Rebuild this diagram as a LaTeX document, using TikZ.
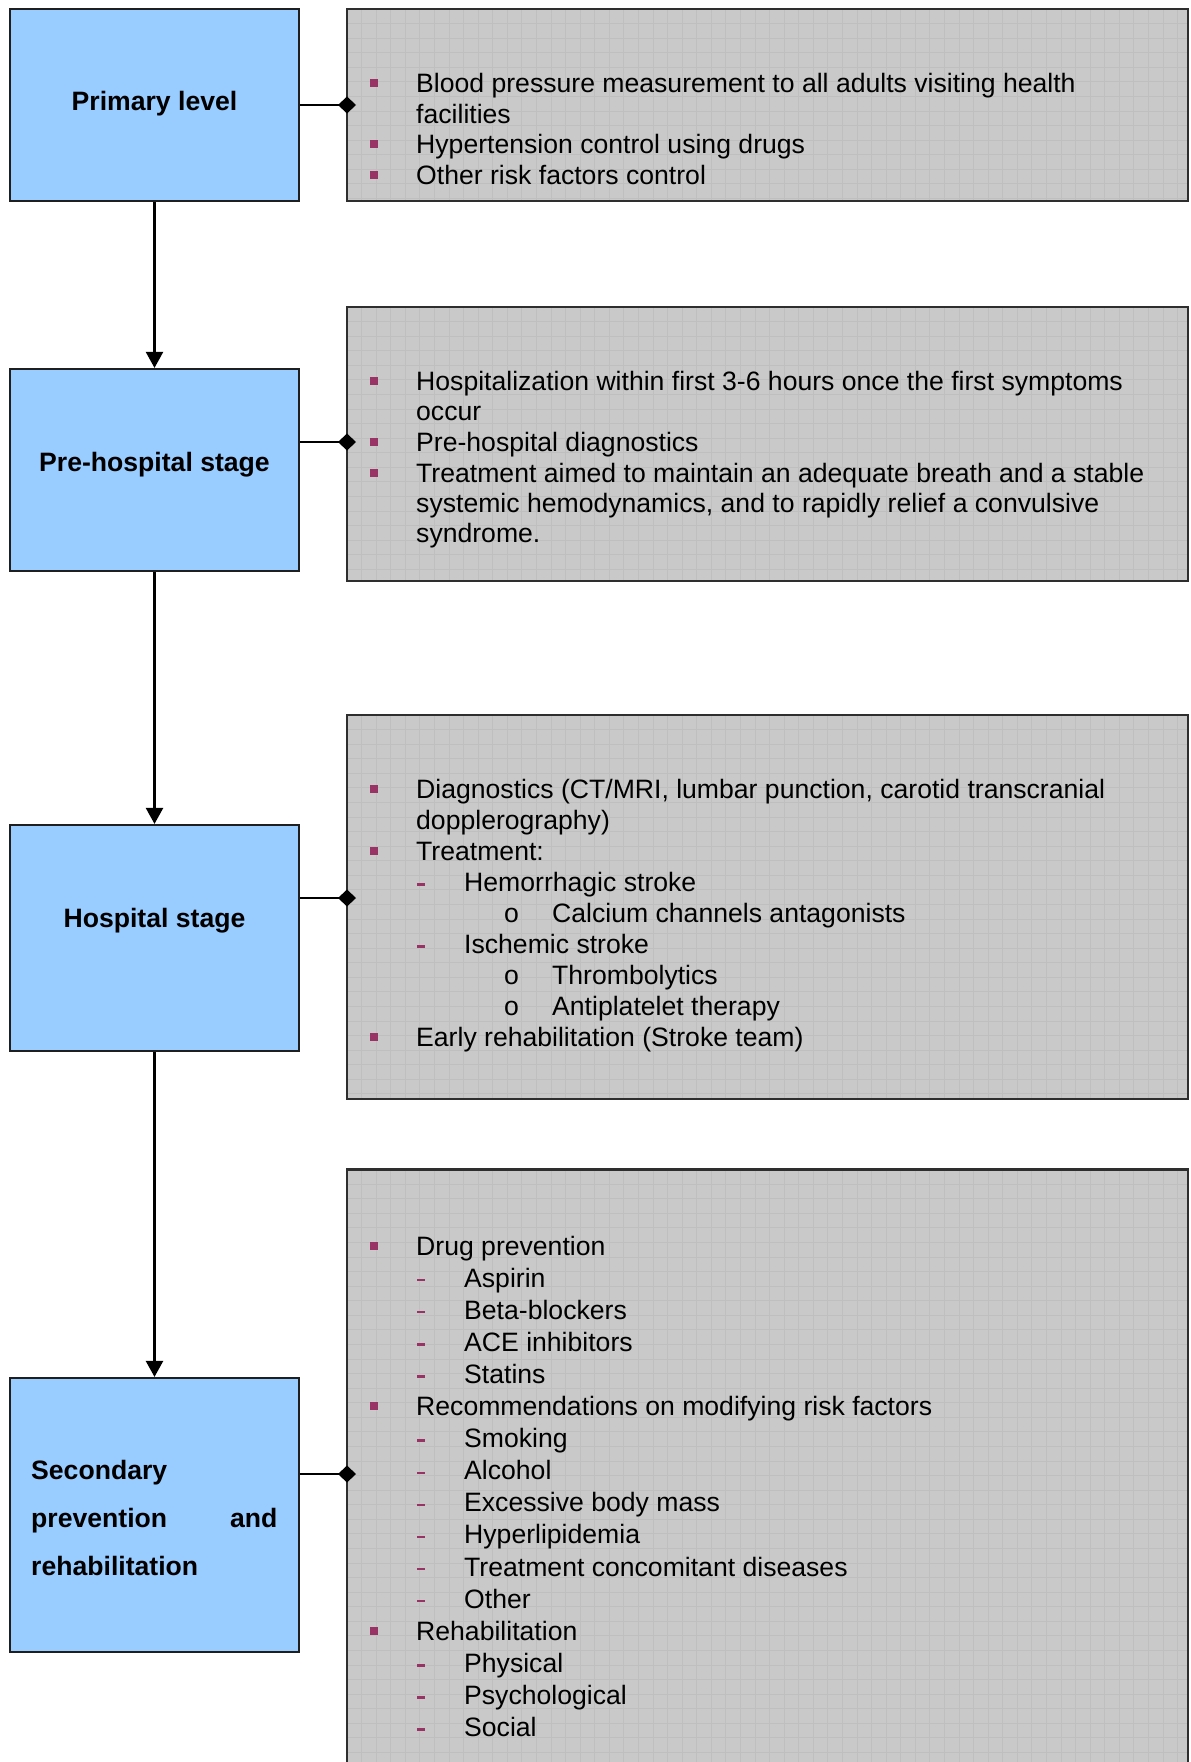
\documentclass[tikz,border=0pt]{standalone}
\usepackage{fontspec}
\setmainfont{Liberation Sans}
\usetikzlibrary{arrows.meta,shapes.geometric}
\definecolor{boxblue}{HTML}{99CCFF}
\definecolor{boxgray}{HTML}{C9C9C9}
\definecolor{gridgray}{HTML}{BFBFBF}
\definecolor{bul}{HTML}{993366}
\newcommand\gridpaper[4]{%
  \begin{scope}
    \clip (#1+1,#2+1) rectangle (#3-1,#4-1);
    \foreach \k in {1,...,58} {\draw[gridln] ({#1+\k*14.57},#2) -- ({#1+\k*14.57},#4);}
    \foreach \k in {1,...,45} {\draw[gridln] (#1,{#2+\k*14.57}) -- (#3,{#2+\k*14.57});}
  \end{scope}}
\tikzset{
  bluebox/.style={draw=black!88, line width=2.2bp, fill=boxblue, inner sep=0pt},
  graybox/.style={draw=black!82, line width=2.2bp, fill=boxgray, inner sep=0pt},
  grayedge/.style={draw=black!82, line width=2.2bp, inner sep=0pt},
  gridln/.style={draw=gridgray, line width=0.75bp},
  txt/.style={anchor=base west, inner sep=0pt, font=\fontsize{26.6bp}{30bp}\selectfont},
  head/.style={anchor=base, inner sep=0pt, font=\fontsize{26.6bp}{30bp}\selectfont\bfseries},
  headl/.style={anchor=base west, inner sep=0pt, font=\fontsize{26.6bp}{30bp}\selectfont\bfseries},
  headr/.style={anchor=base east, inner sep=0pt, font=\fontsize{26.6bp}{30bp}\selectfont\bfseries},
  sq/.style={fill=bul, minimum size=8bp, inner sep=0pt},
  dsh/.style={fill=bul, minimum width=8bp, minimum height=2.4bp, inner sep=0pt},
  dia/.style={diamond, fill=black, inner sep=0pt, outer sep=0pt, minimum width=18bp, minimum height=17bp},
  flow/.style={line width=2.4bp, -{Triangle[width=17bp,length=16bp]}},
  link/.style={line width=2.4bp}
}
\begin{document}
\begin{tikzpicture}[x=1bp,y=-1bp]
\useasboundingbox (0,0) rectangle (1190,1762);
\fill[white] (0,0) rectangle (1190,1762);
\clip (0,0) rectangle (1190,1762);

% ---------- gray boxes ----------
\node[graybox, minimum width=841bp, minimum height=192bp] (g1) at (767.5,105) {};
\gridpaper{347}{9}{1188}{201}
\node[grayedge, minimum width=841bp, minimum height=192bp] (g1e) at (767.5,105) {};

\node[graybox, minimum width=841bp, minimum height=274bp] (g2) at (767.5,444) {};
\gridpaper{347}{307}{1188}{581}
\node[grayedge, minimum width=841bp, minimum height=274bp] (g2e) at (767.5,444) {};

\node[graybox, minimum width=841bp, minimum height=384bp] (g3) at (767.5,907) {};
\gridpaper{347}{715}{1188}{1099}
\node[grayedge, minimum width=841bp, minimum height=384bp] (g3e) at (767.5,907) {};

\node[graybox, minimum width=841bp, minimum height=640bp] (g4) at (767.5,1489.5) {};
\gridpaper{347}{1169.5}{1188}{1809.5}
\node[grayedge, minimum width=841bp, minimum height=640bp] (g4e) at (767.5,1489.5) {};

% ---------- blue boxes ----------
\node[bluebox, minimum width=289bp, minimum height=192bp] (b1) at (154.5,105) {};
\node[bluebox, minimum width=289bp, minimum height=202bp] (b2) at (154.5,470) {};
\node[bluebox, minimum width=289bp, minimum height=226bp] (b3) at (154.5,938) {};
\node[bluebox, minimum width=289bp, minimum height=274bp] (b4) at (154.5,1515) {};

\node[head] (h1) at (154.5,110) {Primary level};
\node[head] (h2) at (154.5,471) {Pre-hospital stage};
\node[head] (h3) at (154.5,927.7) {Hospital stage};
\node[headl] (h4a) at (31,1479.5) {Secondary};
\node[headl] (h4b) at (31,1527) {prevention};
\node[headr] (h4c) at (277.5,1527) {and};
\node[headl] (h4d) at (31,1575) {rehabilitation};

% ---------- flow arrows ----------
\draw[flow] (b1.south) -- (b2.north);
\draw[flow] (b2.south) -- (b3.north);
\draw[flow] (b3.south) -- (b4.north);

% ---------- diamond links ----------
\node[dia] (d1) at (347,105) {};
\node[dia] (d2) at (347,442) {};
\node[dia] (d3) at (347,898) {};
\node[dia] (d4) at (347,1474) {};
\draw[link] (b1.east |- d1.center) -- (d1.center);
\draw[link] (b2.east |- d2.center) -- (d2.center);
\draw[link] (b3.east |- d3.center) -- (d3.center);
\draw[link] (b4.east |- d4.center) -- (d4.center);

% ---------- box 1 text ----------
\node[sq] (s11) at (373.5,83.3) {};
\node[txt] (t11) at (416,92.7) {Blood pressure measurement to all adults visiting health};
\node[txt] (t12) at (416,123.2) {facilities};
\node[sq] (s12) at (373.5,144.2) {};
\node[txt] (t13) at (416,153.5) {Hypertension control using drugs};
\node[sq] (s13) at (373.5,174.7) {};
\node[txt] (t14) at (416,184) {Other risk factors control};

% ---------- box 2 text ----------
\node[sq] (s21) at (373.5,381.2) {};
\node[txt] (t21) at (416,390.5) {Hospitalization within first 3-6 hours once the first symptoms};
\node[txt] (t22) at (416,420.8) {occur};
\node[sq] (s22) at (373.5,442) {};
\node[txt] (t23) at (416,451.3) {Pre-hospital diagnostics};
\node[sq] (s23) at (373.5,472.7) {};
\node[txt] (t24) at (416,482) {Treatment aimed to maintain an adequate breath and a stable};
\node[txt] (t25) at (416,512.3) {systemic hemodynamics, and to rapidly relief a convulsive};
\node[txt] (t26) at (416,542.6) {syndrome.};

% ---------- box 3 text ----------
\node[sq] (s31) at (373.5,789.2) {};
\node[txt] (t31) at (416,798.5) {Diagnostics (CT/MRI, lumbar punction, carotid transcranial};
\node[txt] (t32) at (416,829.5) {dopplerography)};
\node[sq] (s32) at (373.5,851.2) {};
\node[txt] (t33) at (416,860.5) {Treatment:};
\node[dsh] (m31) at (421,884.5) {};
\node[txt] (t34) at (464,891.5) {Hemorrhagic stroke};
\node[txt] (o31) at (504,922.5) {o};
\node[txt] (t35) at (552,922.5) {Calcium channels antagonists};
\node[dsh] (m32) at (421,946.5) {};
\node[txt] (t36) at (464,953.5) {Ischemic stroke};
\node[txt] (o32) at (504,984.5) {o};
\node[txt] (t37) at (552,984.5) {Thrombolytics};
\node[txt] (o33) at (504,1015.5) {o};
\node[txt] (t38) at (552,1015.5) {Antiplatelet therapy};
\node[sq] (s33) at (373.5,1037.2) {};
\node[txt] (t39) at (416,1046.5) {Early rehabilitation (Stroke team)};

% ---------- box 4 text ----------
\node[sq] (s41) at (373.5,1245.7) {};
\node[txt] (t41) at (416,1255) {Drug prevention};
\node[dsh] (m41) at (421,1280.1) {};
\node[txt] (t42) at (464,1287.1) {Aspirin};
\node[dsh] (m42) at (421,1312.2) {};
\node[txt] (t43) at (464,1319.2) {Beta-blockers};
\node[dsh] (m43) at (421,1344.3) {};
\node[txt] (t44) at (464,1351.3) {ACE inhibitors};
\node[dsh] (m44) at (421,1376.4) {};
\node[txt] (t45) at (464,1383.4) {Statins};
\node[sq] (s42) at (373.5,1406.2) {};
\node[txt] (t46) at (416,1415.5) {Recommendations on modifying risk factors};
\node[dsh] (m45) at (421,1440.6) {};
\node[txt] (t47) at (464,1447.6) {Smoking};
\node[dsh] (m46) at (421,1472.7) {};
\node[txt] (t48) at (464,1479.7) {Alcohol};
\node[dsh] (m47) at (421,1504.8) {};
\node[txt] (t49) at (464,1511.8) {Excessive body mass};
\node[dsh] (m48) at (421,1536.9) {};
\node[txt] (t410) at (464,1543.9) {Hyperlipidemia};
\node[dsh] (m49) at (421,1569) {};
\node[txt] (t411) at (464,1576) {Treatment concomitant diseases};
\node[dsh] (m410) at (421,1601.1) {};
\node[txt] (t412) at (464,1608.1) {Other};
\node[sq] (s43) at (373.5,1630.9) {};
\node[txt] (t413) at (416,1640.2) {Rehabilitation};
\node[dsh] (m411) at (421,1665.3) {};
\node[txt] (t414) at (464,1672.3) {Physical};
\node[dsh] (m412) at (421,1697.4) {};
\node[txt] (t415) at (464,1704.4) {Psychological};
\node[dsh] (m413) at (421,1729.5) {};
\node[txt] (t416) at (464,1736.5) {Social};
\end{tikzpicture}
\end{document}
